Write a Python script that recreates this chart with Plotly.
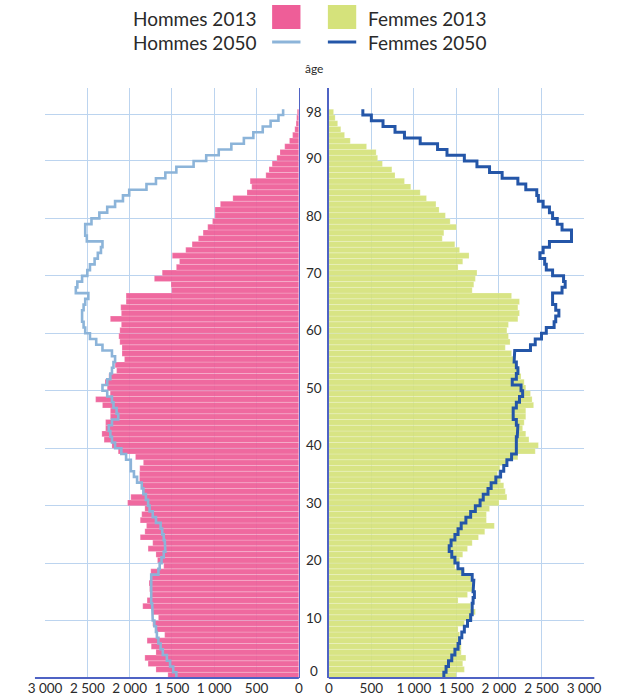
import numpy as np
import plotly.graph_objects as go

ages = list(range(0, 99))

hommes_2013 = [1548, 1689, 1782, 1820, 1689, 1745, 1794, 1586, 1689, 1727,
               1660, 1727, 1845, 1794, 1745, 1764, 1771, 1745, 1750, 1597,
               1671, 1689, 1782, 1727, 1875, 1820, 1801, 1875, 1857, 1820,
               2024, 1986, 1838, 1857, 1883, 1883, 1880, 1838, 1931, 2135,
               2209, 2302, 2328, 2284, 2284, 2228, 2228, 2321, 2402, 2230,
               2265, 2291, 2246, 2154, 2172, 2061, 2090, 2090, 2116, 2128,
               2116, 2098, 2228, 2098, 2105, 2042, 2042, 1504, 1511, 1708,
               1615, 1448, 1411, 1496, 1337, 1262, 1188, 1132, 1077, 1021,
               991, 991, 928, 780, 613, 557, 576, 390, 353, 316,
               260, 223, 167, 111, 74, 48, 33, 26, 19]

hommes_2050 = [1448, 1485, 1522, 1560, 1608, 1634, 1660, 1678, 1689, 1708,
               1727, 1734, 1734, 1745, 1745, 1745, 1753, 1745, 1660, 1645,
               1623, 1597, 1578, 1585, 1597, 1615, 1634, 1689, 1727, 1764,
               1782, 1808, 1838, 1857, 1912, 1949, 1986, 1986, 2042, 2098,
               2172, 2209, 2228, 2246, 2209, 2135, 2154, 2191, 2209, 2265,
               2321, 2265, 2228, 2209, 2191, 2172, 2209, 2321, 2395, 2469,
               2525, 2544, 2562, 2562, 2544, 2525, 2488, 2636, 2618, 2562,
               2500, 2469, 2414, 2376, 2339, 2321, 2506, 2525, 2525, 2451,
               2358, 2265, 2172, 2079, 2005, 1801, 1689, 1578, 1448, 1244,
               1095, 947, 798, 650, 538, 427, 334, 241, 186]

femmes_2013 = [1500, 1593, 1574, 1611, 1556, 1556, 1519, 1537, 1519, 1593,
               1685, 1722, 1667, 1519, 1630, 1685, 1685, 1667, 1593, 1482,
               1537, 1574, 1630, 1685, 1759, 1833, 1945, 1852, 1852, 1889,
               2000, 2093, 2074, 2056, 2019, 1982, 2010, 2093, 2222, 2426,
               2463, 2352, 2315, 2278, 2296, 2315, 2315, 2407, 2389, 2370,
               2315, 2296, 2259, 2241, 2204, 2185, 2148, 2074, 2130, 2111,
               2093, 2111, 2222, 2241, 2222, 2241, 2148, 1685, 1704, 1722,
               1741, 1519, 1574, 1648, 1537, 1481, 1333, 1352, 1500, 1426,
               1370, 1296, 1259, 1148, 1074, 963, 889, 778, 741, 630,
               574, 556, 444, 252, 185, 141, 104, 74, 56]

femmes_2050 = [1352, 1378, 1407, 1445, 1482, 1519, 1537, 1563, 1593, 1630,
               1667, 1685, 1685, 1696, 1711, 1696, 1704, 1685, 1574, 1519,
               1482, 1445, 1415, 1437, 1482, 1519, 1556, 1611, 1667, 1722,
               1778, 1815, 1871, 1908, 1963, 2019, 2056, 2093, 2148, 2204,
               2204, 2204, 2215, 2222, 2204, 2167, 2167, 2204, 2241, 2278,
               2259, 2156, 2204, 2222, 2204, 2178, 2185, 2370, 2426, 2500,
               2556, 2648, 2667, 2704, 2667, 2630, 2630, 2741, 2778, 2759,
               2630, 2556, 2537, 2481, 2519, 2593, 2852, 2852, 2741, 2685,
               2630, 2593, 2519, 2463, 2444, 2315, 2222, 2037, 1889, 1741,
               1593, 1389, 1278, 1074, 889, 778, 637, 500, 400]

age_ticks = [0, 10, 20, 30, 40, 50, 60, 70, 80, 90, 98]
age_tick_labels = ["0", "10", "20", "30", "40", "50", "60", "70", "80", "90", "98"]
x_ticks = [0, 500, 1000, 1500, 2000, 2500, 3000]
x_tick_labels = ["0", "500", "1 000", "1 500", "2 000", "2 500", "3 000"]

legend_labels = ["Hommes 2013", "Femmes 2013", "Hommes 2050", "Femmes 2050"]

PINK = "#ee5e98"
GREEN = "#d5e27b"
LIGHTBLUE = "#8cb4d9"
DARKBLUE = "#2456a8"
GRID = "#bcd4ef"
AXIS = "#4f63c4"
TEXT = "#2a2a2a"
FONT = "Lato, 'Noto Sans', sans-serif"

W, H = 617, 698
TOP, BOTTOM = 88, 678

ages_arr = np.array(ages)
bar_y = ages_arr + 0.5


def step_xy(values):
    v = np.asarray(values, dtype=float)
    xs = np.repeat(v, 2)
    ys = np.column_stack([ages_arr, ages_arr + 1]).ravel()
    return xs, ys


fig = go.Figure()

fig.add_trace(go.Bar(
    x=hommes_2013, y=bar_y, orientation="h", width=1,
    marker=dict(color=PINK, line=dict(color="rgba(255,255,255,0.35)", width=0.6)),
    opacity=0.93, xaxis="x", yaxis="y", name=legend_labels[0], showlegend=False,
))
fig.add_trace(go.Bar(
    x=femmes_2013, y=bar_y, orientation="h", width=1,
    marker=dict(color=GREEN, line=dict(color="rgba(255,255,255,0.35)", width=0.6)),
    opacity=0.93, xaxis="x2", yaxis="y2", name=legend_labels[1], showlegend=False,
))
hx, hy = step_xy(hommes_2050)
fig.add_trace(go.Scatter(
    x=hx, y=hy, mode="lines", line=dict(color=LIGHTBLUE, width=2.6),
    xaxis="x", yaxis="y", name=legend_labels[2], showlegend=False,
))
fx, fy = step_xy(femmes_2050)
fig.add_trace(go.Scatter(
    x=fx, y=fy, mode="lines", line=dict(color=DARKBLUE, width=3),
    xaxis="x2", yaxis="y2", name=legend_labels[3], showlegend=False,
))

yrange = [0, (BOTTOM - TOP) / 5.745]
left_dom = [29.3 / W, 298.3 / W]
right_dom = [330 / W, 600.5 / W]

xcommon = dict(
    tickvals=x_ticks, ticktext=x_tick_labels, showgrid=True, gridcolor=GRID,
    gridwidth=1, zeroline=False, showline=False, ticks="",
    tickfont=dict(family=FONT, size=13.5, color=TEXT), fixedrange=True,
)
ycommon = dict(
    range=yrange, tickvals=age_ticks[1:], showticklabels=False, showgrid=True,
    gridcolor=GRID, gridwidth=1, zeroline=False, ticks="", fixedrange=True,
)

fig.update_layout(
    width=W, height=H,
    margin=dict(l=0, r=0, t=TOP, b=H - BOTTOM),
    paper_bgcolor="white", plot_bgcolor="white",
    font=dict(family=FONT, color=TEXT),
    barmode="overlay", bargap=0,
    xaxis=dict(domain=left_dom, range=[3004, 0], **xcommon),
    xaxis2=dict(domain=right_dom, range=[0, 3004], anchor="y2", **xcommon),
    yaxis=dict(anchor="x", side="right", showline=True, linecolor=AXIS, linewidth=1.6, **ycommon),
    yaxis2=dict(anchor="x2", side="left", showline=True, linecolor=AXIS, linewidth=1.6, **ycommon),
    showlegend=False,
    hovermode=False,
)

# bottom axis lines (extend slightly past the outer gridlines)
fig.add_shape(type="line", xref="paper", yref="paper", x0=19 / W, x1=298.3 / W, y0=0, y1=0,
              line=dict(color=AXIS, width=2))
fig.add_shape(type="line", xref="paper", yref="paper", x0=330 / W, x1=611 / W, y0=0, y1=0,
              line=dict(color=AXIS, width=2))


def py(px):
    return (BOTTOM - px) / (BOTTOM - TOP)


# age labels in the middle
for a, lab in zip(age_ticks, age_tick_labels):
    fig.add_annotation(x=314 / W, xref="paper", y=a + 0.5 + (0.8 if a == 0 else 0), yref="y",
                       text=lab, showarrow=False, xanchor="center", yanchor="middle",
                       font=dict(family=FONT, size=13.5, color=TEXT))
fig.add_annotation(x=314 / W, xref="paper", y=py(68), yref="paper", text="âge",
                   showarrow=False, xanchor="center", yanchor="middle",
                   font=dict(family=FONT, size=12, color=TEXT))

# custom legend
fig.add_annotation(x=255 / W, xref="paper", y=py(19), yref="paper", text=legend_labels[0],
                   showarrow=False, xanchor="right", yanchor="middle",
                   font=dict(family=FONT, size=19, color=TEXT))
fig.add_annotation(x=369 / W, xref="paper", y=py(19), yref="paper", text=legend_labels[1],
                   showarrow=False, xanchor="left", yanchor="middle",
                   font=dict(family=FONT, size=19, color=TEXT))
fig.add_annotation(x=255 / W, xref="paper", y=py(43), yref="paper", text=legend_labels[2],
                   showarrow=False, xanchor="right", yanchor="middle",
                   font=dict(family=FONT, size=19, color=TEXT))
fig.add_annotation(x=369 / W, xref="paper", y=py(43), yref="paper", text=legend_labels[3],
                   showarrow=False, xanchor="left", yanchor="middle",
                   font=dict(family=FONT, size=19, color=TEXT))
fig.add_shape(type="rect", xref="paper", yref="paper", x0=270 / W, x1=300 / W,
              y0=py(29), y1=py(5), fillcolor=PINK, line=dict(width=0))
fig.add_shape(type="rect", xref="paper", yref="paper", x0=329 / W, x1=359 / W,
              y0=py(29), y1=py(5), fillcolor=GREEN, line=dict(width=0))
fig.add_shape(type="line", xref="paper", yref="paper", x0=270 / W, x1=300 / W,
              y0=py(42), y1=py(42), line=dict(color=LIGHTBLUE, width=3))
fig.add_shape(type="line", xref="paper", yref="paper", x0=329 / W, x1=359 / W,
              y0=py(42), y1=py(42), line=dict(color=DARKBLUE, width=3))

fig.write_html(
    "out.html",
    config={"displayModeBar": False, "staticPlot": True},
    post_script="document.body.style.margin='0';document.body.style.overflow='hidden';",
)
